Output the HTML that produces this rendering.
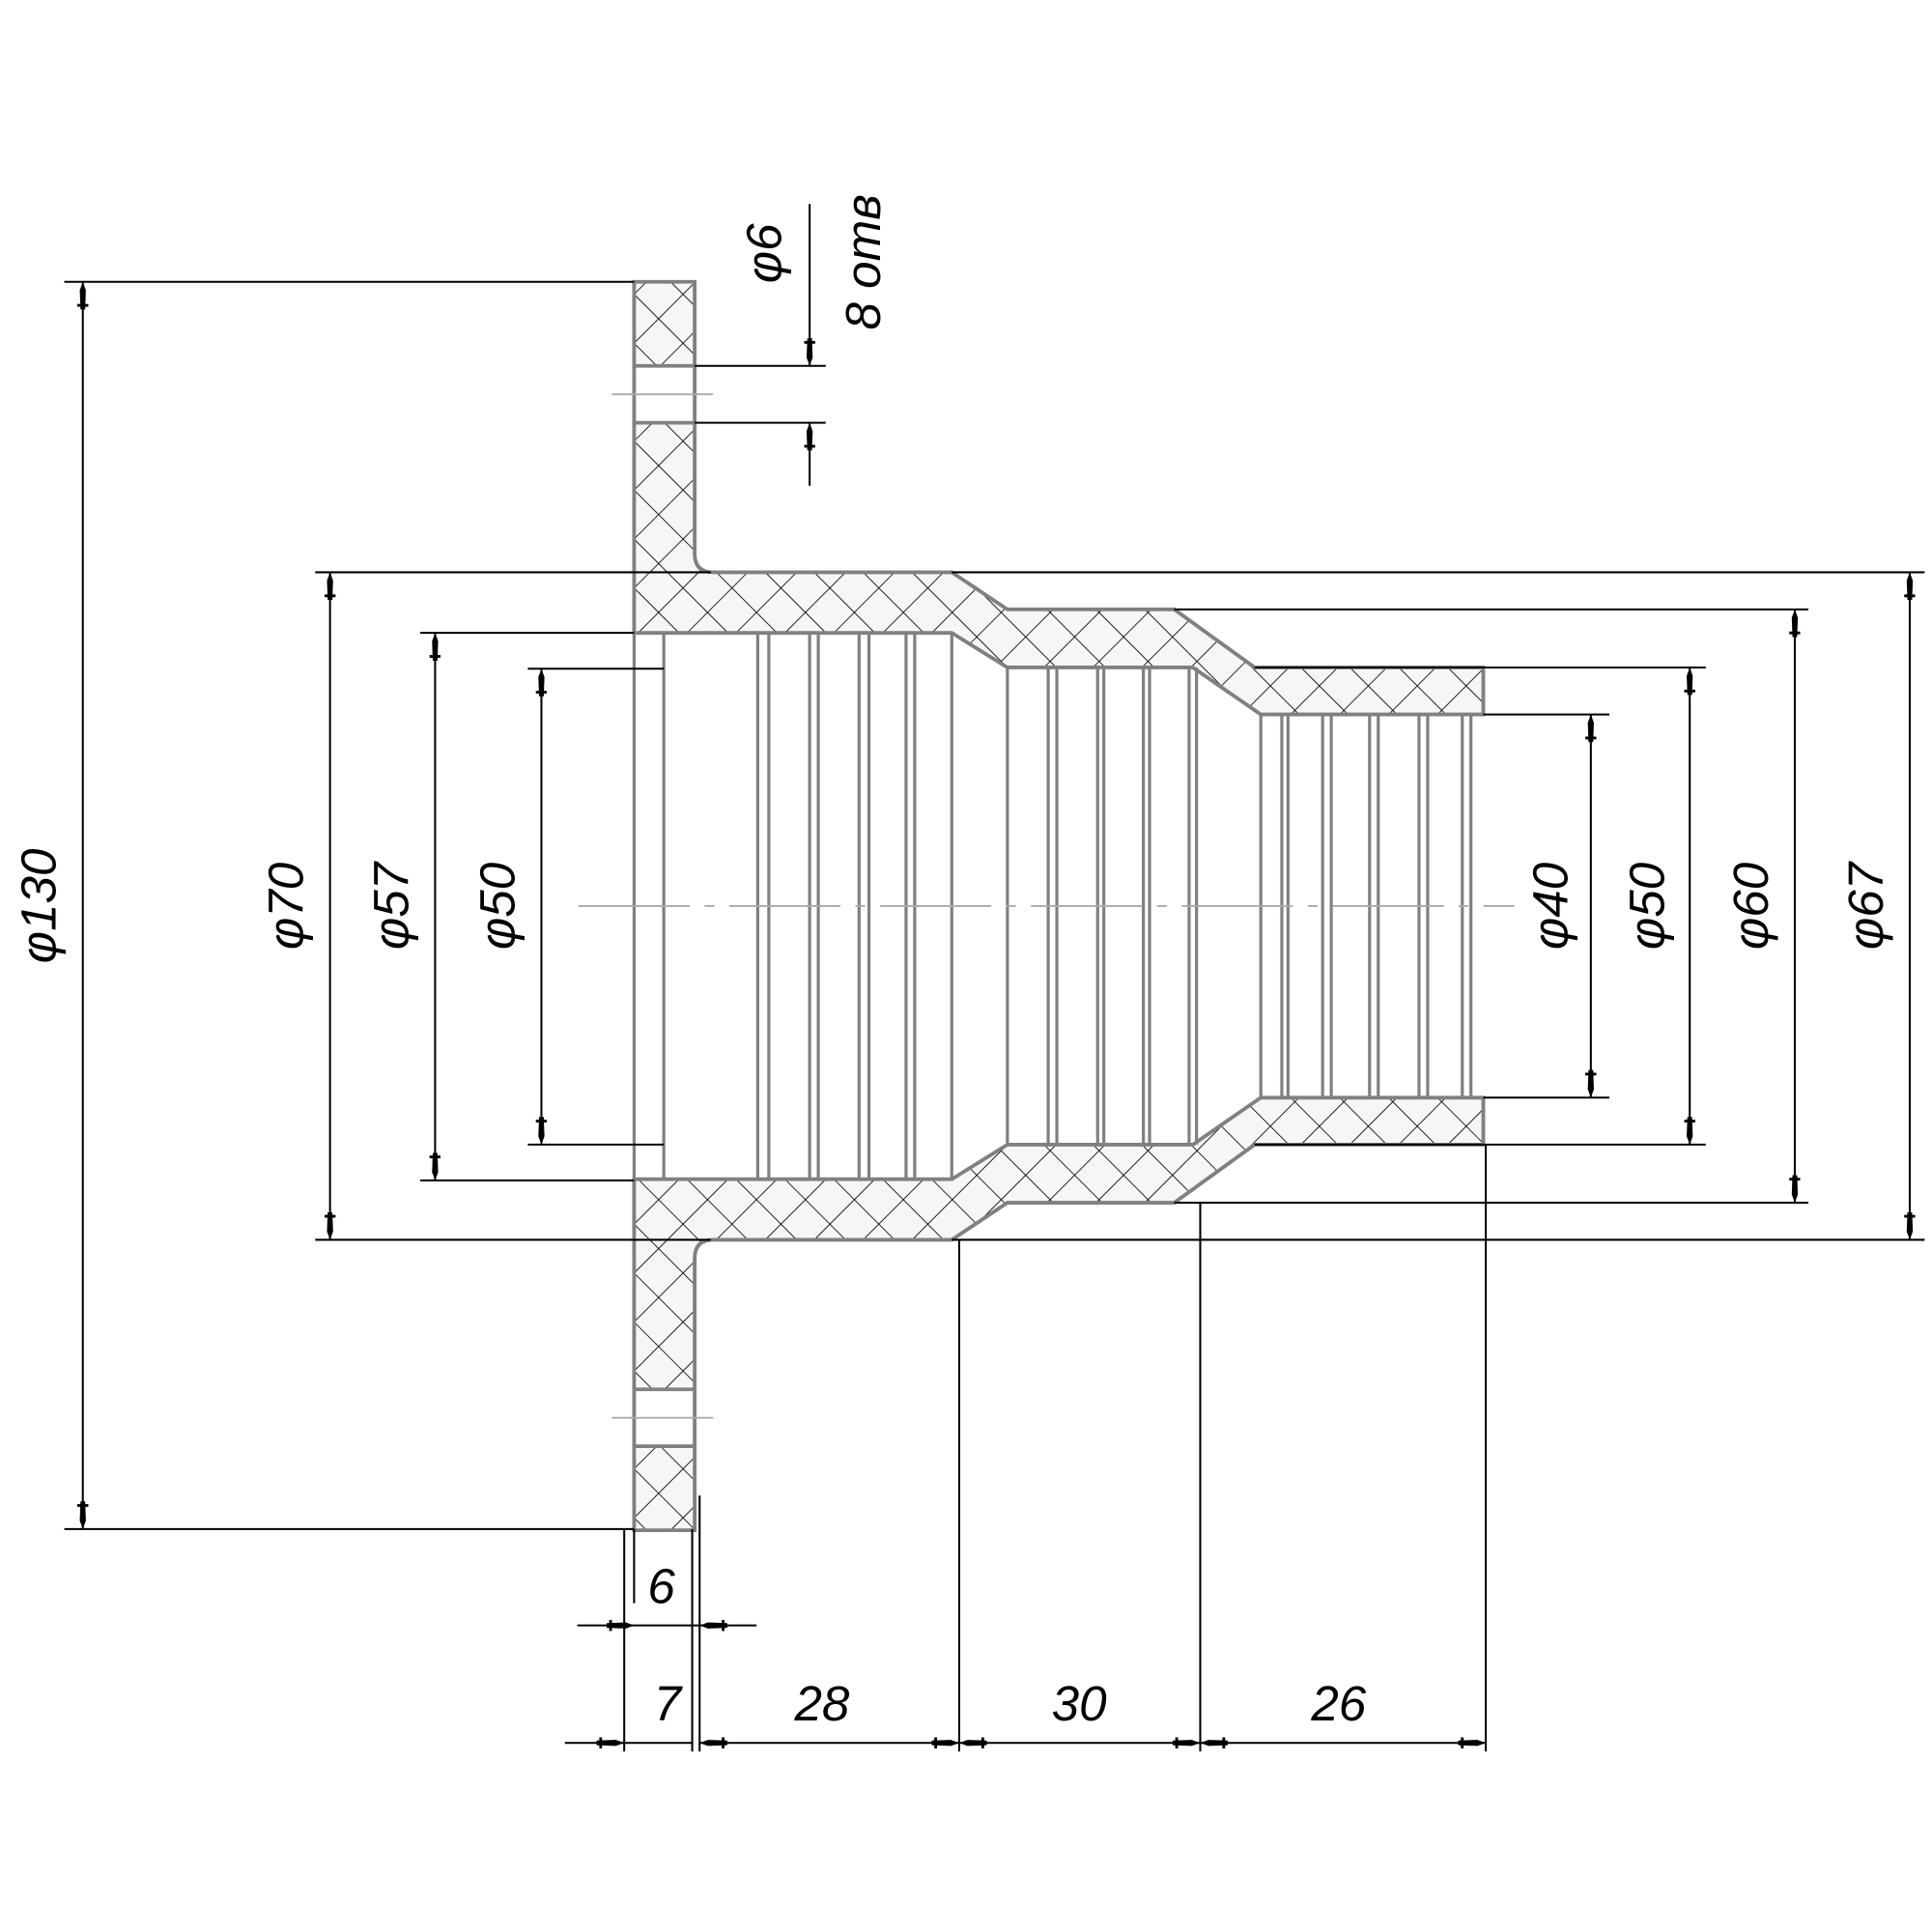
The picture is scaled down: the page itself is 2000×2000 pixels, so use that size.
<!DOCTYPE html>
<html><head><meta charset="utf-8"><style>html,body{margin:0;padding:0;background:#fff}svg{display:block}</style></head><body>
<svg width="2000" height="2000" viewBox="0 0 1563 1563" xmlns="http://www.w3.org/2000/svg">
<defs>
<pattern id="h" width="28" height="28" patternUnits="userSpaceOnUse" patternTransform="translate(513,0) rotate(45)">
<rect width="28" height="28" fill="#f6f6f6"/>
<path d="M0 0H28M0 0V28" stroke="#000" stroke-width="1.3"/>
</pattern>
<marker id="a" viewBox="0 0 20 8" refX="20" refY="4" markerWidth="14" markerHeight="5.6" markerUnits="strokeWidth" orient="auto-start-reverse">
<path d="M0 2.3L14 1.8L20 4L14 6.2L0 5.7Z" fill="#000"/><path d="M3 0V8" stroke="#000" stroke-width="2"/>
</marker>
<g id="half">
<path d="M513 228H562V296H513Z" fill="url(#h)" stroke="#808080" stroke-width="3"/>
<path d="M513 342H562V448Q562 463 577 463H770L815 493H950L1015 540H1200V578H1020L965 540H815L770 512H513Z" fill="url(#h)" stroke="#808080" stroke-width="3"/>
<path d="M513 296V342M562 296V342" stroke="#808080" stroke-width="3"/>
<path d="M495 319H577" stroke="#aaa" stroke-width="1.5"/>
</g>
</defs>
<use href="#half"/>
<use href="#half" transform="translate(0,1466) scale(1,-1)"/>
<g stroke="#808080" stroke-width="2.5">
<path d="M537 512V955M613 512V955M622 512V955M655 512V955M662 512V955M695 512V955M703 512V955M733 512V955M740 512V955M770 512V955"/>
<path d="M815 540V926M848 540V926M855 540V926M888 540V926M893 540V926M925 540V926M930 540V926M962 540V926M968 540V926"/>
<path d="M1020 578V888M1037 578V888M1042 578V888M1070 578V888M1077 578V888M1108 578V888M1115 578V888M1148 578V888M1155 578V888M1183 578V888M1190 578V888"/>
<path d="M513 512V955"/>
</g>
<path d="M468 733H1225" stroke="#aaa" stroke-width="1.5" stroke-dasharray="90 12 8 12"/>
<g stroke="#000" stroke-width="1.6" fill="none">
<path d="M52 228H513M52 1237H513"/>
<path d="M67 228V1237" marker-start="url(#a)" marker-end="url(#a)"/>
<path d="M255 463H575M255 1003H575"/>
<path d="M267 463V1003" marker-start="url(#a)" marker-end="url(#a)"/>
<path d="M340 512H513M340 955H513"/>
<path d="M352 512V955" marker-start="url(#a)" marker-end="url(#a)"/>
<path d="M427 541H537M427 926H537"/>
<path d="M438 541V926" marker-start="url(#a)" marker-end="url(#a)"/>
<path d="M770 463H1557M770 1003H1557"/>
<path d="M1545 463V1003" marker-start="url(#a)" marker-end="url(#a)"/>
<path d="M950 493H1463M950 973H1463"/>
<path d="M1452 493V973" marker-start="url(#a)" marker-end="url(#a)"/>
<path d="M1015 540H1380M1015 926H1380"/>
<path d="M1367 540V926" marker-start="url(#a)" marker-end="url(#a)"/>
<path d="M1200 578H1302M1200 888H1302"/>
<path d="M1287 578V888" marker-start="url(#a)" marker-end="url(#a)"/>
<path d="M562 296H668M562 342H668"/>
<path d="M655 165V296" marker-end="url(#a)"/>
<path d="M655 393V342" marker-end="url(#a)"/>
<path d="M505 1237V1417M513 1237V1297M560 1237V1417M566 1210V1417M776 1003V1417M971 973V1417M1202 926V1417"/>
<path d="M467 1315H513" marker-end="url(#a)"/>
<path d="M612 1315H566" marker-end="url(#a)"/>
<path d="M513 1315H566"/>
<path d="M457 1410H505" marker-end="url(#a)"/>
<path d="M505 1410H560"/>
<path d="M566 1410H776" marker-start="url(#a)" marker-end="url(#a)"/>
<path d="M776 1410H971" marker-start="url(#a)" marker-end="url(#a)"/>
<path d="M971 1410H1202" marker-start="url(#a)" marker-end="url(#a)"/>
</g>
<g font-family="Liberation Sans, sans-serif" font-style="italic" font-size="40" fill="#000" text-anchor="middle">
<text x="535" y="1297">6</text>
<text x="540" y="1392">7</text>
<text x="665" y="1392">28</text>
<text x="873" y="1392">30</text>
<text x="1083" y="1392">26</text>
<text transform="translate(45,733) rotate(-90)">φ130</text>
<text transform="translate(245,733) rotate(-90)">φ70</text>
<text transform="translate(330,733) rotate(-90)">φ57</text>
<text transform="translate(416,733) rotate(-90)">φ50</text>
<text transform="translate(1268,733) rotate(-90)">φ40</text>
<text transform="translate(1346,733) rotate(-90)">φ50</text>
<text transform="translate(1430,733) rotate(-90)">φ60</text>
<text transform="translate(1523,733) rotate(-90)">φ67</text>
<text transform="translate(632,205) rotate(-90)">φ6</text>
<text transform="translate(712,212) rotate(-90)">8 отв</text>
</g>
</svg>
</body></html>
